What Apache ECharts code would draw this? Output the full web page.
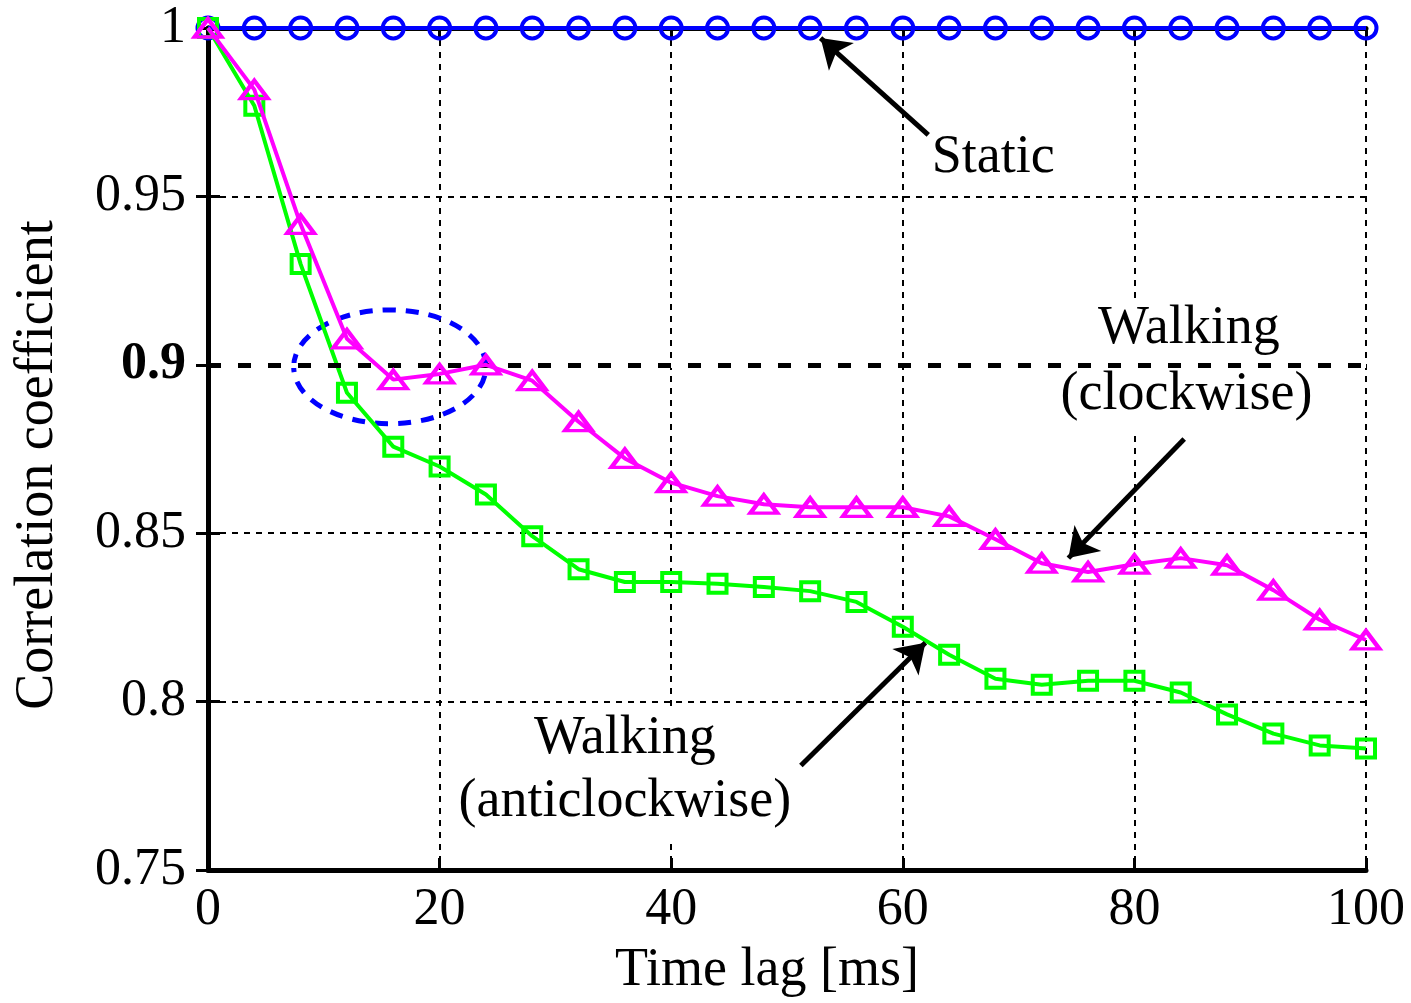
<!DOCTYPE html>
<html>
<head>
<meta charset="utf-8">
<style>
  html, body { margin: 0; padding: 0; background: #fff; }
  #chart { width: 1411px; height: 1003px; }
</style>
<script src="https://cdn.jsdelivr.net/npm/echarts@6/dist/echarts.min.js"></script>
</head>
<body>
<div id="chart"></div>
<script>
// Time lag in ms, sampled every 4 ms
const timeLag = [0, 4, 8, 12, 16, 20, 24, 28, 32, 36, 40, 44, 48, 52, 56, 60, 64, 68, 72, 76, 80, 84, 88, 92, 96, 100];

// Correlation coefficient per scenario
const staticCorr = [1, 1, 1, 1, 1, 1, 1, 1, 1, 1, 1, 1, 1, 1, 1, 1, 1, 1, 1, 1, 1, 1, 1, 1, 1, 1];
const walkingClockwise = [1.0, 0.9817, 0.9417, 0.9077, 0.8956, 0.8973, 0.9000, 0.8953, 0.8831, 0.8722,
  0.8650, 0.8610, 0.8586, 0.8577, 0.8577, 0.8577, 0.8550, 0.8482, 0.8411, 0.8385,
  0.8408, 0.8426, 0.8405, 0.8331, 0.8243, 0.8183];
const walkingAnticlockwise = [1.0, 0.9769, 0.9299, 0.8917, 0.8757, 0.8698, 0.8615, 0.8491, 0.8393, 0.8355,
  0.8355, 0.8350, 0.8340, 0.8328, 0.8296, 0.8222, 0.8139, 0.8068, 0.8050, 0.8062,
  0.8062, 0.8027, 0.7962, 0.7905, 0.7870, 0.7861];

// Axis settings
const xTicks = { min: 0, max: 100, interval: 20 };
const yTicks = { min: 0.75, max: 1, interval: 0.05 };
const thresholdValue = 0.9;

const FONT = '"Liberation Serif", "Times New Roman", serif';
const FS_TICK = 52;
const FS = 54;

function pairs(ys) { return timeLag.map((x, i) => [x, ys[i]]); }

const chart = echarts.init(document.getElementById('chart'), null, { renderer: 'canvas' });

const gridLine = { show: true, lineStyle: { color: '#000', width: 2, type: [6, 6] } };
const frameLine = { show: true, lineStyle: { color: '#000', width: 5 } };
const innerTick = { show: true, inside: true, length: 12, lineStyle: { color: '#000', width: 3 } };

const option = {
  animation: false,
  backgroundColor: '#fff',
  grid: { left: 208, right: 45, top: 28, bottom: 130 },
  xAxis: [
    {
      type: 'value', min: xTicks.min, max: xTicks.max, interval: xTicks.interval,
      name: 'Time lag [ms]', nameLocation: 'middle', nameGap: 74,
      nameTextStyle: { fontFamily: FONT, fontSize: FS, color: '#000', padding: [0, 40, 0, 0] },
      axisLine: frameLine, axisTick: innerTick,
      axisLabel: { fontFamily: FONT, fontSize: FS_TICK, color: '#000', margin: 14 },
      splitLine: gridLine
    },
    {
      type: 'value', position: 'top', min: xTicks.min, max: xTicks.max, interval: xTicks.interval,
      axisLine: frameLine, axisTick: innerTick,
      axisLabel: { show: false }, splitLine: { show: false }
    }
  ],
  yAxis: [
    {
      type: 'value', min: yTicks.min, max: yTicks.max, interval: yTicks.interval,
      name: 'Correlation coefficient', nameLocation: 'middle', nameGap: 143,
      nameTextStyle: { fontFamily: FONT, fontSize: FS, color: '#000', padding: [0, 32, 0, 0] },
      axisLine: frameLine, axisTick: innerTick,
      axisLabel: {
        fontFamily: FONT, fontSize: FS_TICK, color: '#000', margin: 22,
        formatter: v => {
          const s = String(Number(v.toFixed(2)));
          return Math.abs(v - thresholdValue) < 1e-9 ? '{b|' + s + '}' : s;
        },
        rich: { b: { fontFamily: FONT, fontSize: FS_TICK, fontWeight: 'bold', color: '#000' } }
      },
      splitLine: gridLine
    },
    {
      type: 'value', position: 'right', min: yTicks.min, max: yTicks.max, interval: yTicks.interval,
      axisLine: frameLine, axisTick: innerTick,
      axisLabel: { show: false }, splitLine: { show: false }
    }
  ],
  series: [
    {
      // white underlay so the dotted grid line does not show in the threshold gaps
      name: 'threshold-underlay', type: 'line', data: [], z: 0.4,
      markLine: {
        silent: true, symbol: ['none', 'none'], label: { show: false },
        lineStyle: { color: '#fff', width: 5, type: 'solid' },
        data: [{ yAxis: thresholdValue }]
      }
    },
    {
      name: 'threshold', type: 'line', data: [], z: 0.5,
      markLine: {
        silent: true, symbol: ['none', 'none'], label: { show: false },
        lineStyle: { color: '#000', width: 5, type: [13, 17] },
        data: [{ yAxis: thresholdValue }]
      }
    },
    {
      name: 'Static', type: 'line', data: pairs(staticCorr),
      symbol: 'circle', symbolSize: 21,
      lineStyle: { color: '#0000ff', width: 4 },
      itemStyle: { color: 'rgba(0,0,0,0)', borderColor: '#0000ff', borderWidth: 4 },
      z: 3,
      markLine: {
        silent: true, symbol: ['none', 'arrow'], symbolSize: 28,
        label: { show: false },
        lineStyle: { color: '#000', width: 5, type: 'solid' },
        data: [
          [{ coord: [62.2, 0.9683] }, { coord: [52.9, 0.997] }],
          [{ coord: [84.3, 0.878] }, { coord: [74.3, 0.8426] }],
          [{ coord: [51.2, 0.781] }, { coord: [61.95, 0.8175] }]
        ]
      }
    },
    {
      name: 'Walking (anticlockwise)', type: 'line', data: pairs(walkingAnticlockwise),
      symbol: 'rect', symbolSize: 18,
      lineStyle: { color: '#00ff00', width: 4 },
      itemStyle: { color: 'rgba(0,0,0,0)', borderColor: '#00ff00', borderWidth: 4 },
      z: 4
    },
    {
      name: 'Walking (clockwise)', type: 'line', data: pairs(walkingClockwise),
      symbol: 'triangle', symbolSize: [27, 18],
      lineStyle: { color: '#ff00ff', width: 4 },
      itemStyle: { color: 'rgba(0,0,0,0)', borderColor: '#ff00ff', borderWidth: 4 },
      z: 5
    }
  ]
};

chart.setOption(option);

// Annotations positioned from data coordinates
function px(x, y) { return chart.convertToPixel({ gridIndex: 0 }, [x, y]); }

function label(t, x, y) {
  const p = px(x, y);
  return {
    type: 'text', x: p[0], y: p[1], z: 10,
    style: { text: t, fontFamily: FONT, fontSize: FS, fill: '#000', align: 'center', verticalAlign: 'middle' }
  };
}
function whiteBox(x0, y0, x1, y1) {
  const a = px(x0, y0), b = px(x1, y1);
  return {
    type: 'rect', z: 1,
    shape: { x: a[0], y: a[1], width: b[0] - a[0], height: b[1] - a[1] },
    style: { fill: '#fff' }
  };
}

const c = px(15.7, 0.8994);
const e1 = px(15.7 + 8.3, 0.8994 - 0.0169);

chart.setOption({
  graphic: [
    {
      type: 'ellipse', z: 1.5,
      shape: { cx: c[0], cy: c[1], rx: e1[0] - c[0], ry: e1[1] - c[1] },
      style: { fill: 'none', stroke: '#0000ff', lineWidth: 5, lineDash: [13, 10] }
    },
    whiteBox(73.0, 0.9195, 96.25, 0.8805),
    whiteBox(21.05, 0.7985, 51.2, 0.7577),
    label('Static', 67.8, 0.9615),
    label('Walking', 84.7, 0.9107),
    label('(clockwise)', 84.5, 0.8911),
    label('Walking', 36.0, 0.7890),
    label('(anticlockwise)', 36.0, 0.7701)
  ]
});
</script>
</body>
</html>
